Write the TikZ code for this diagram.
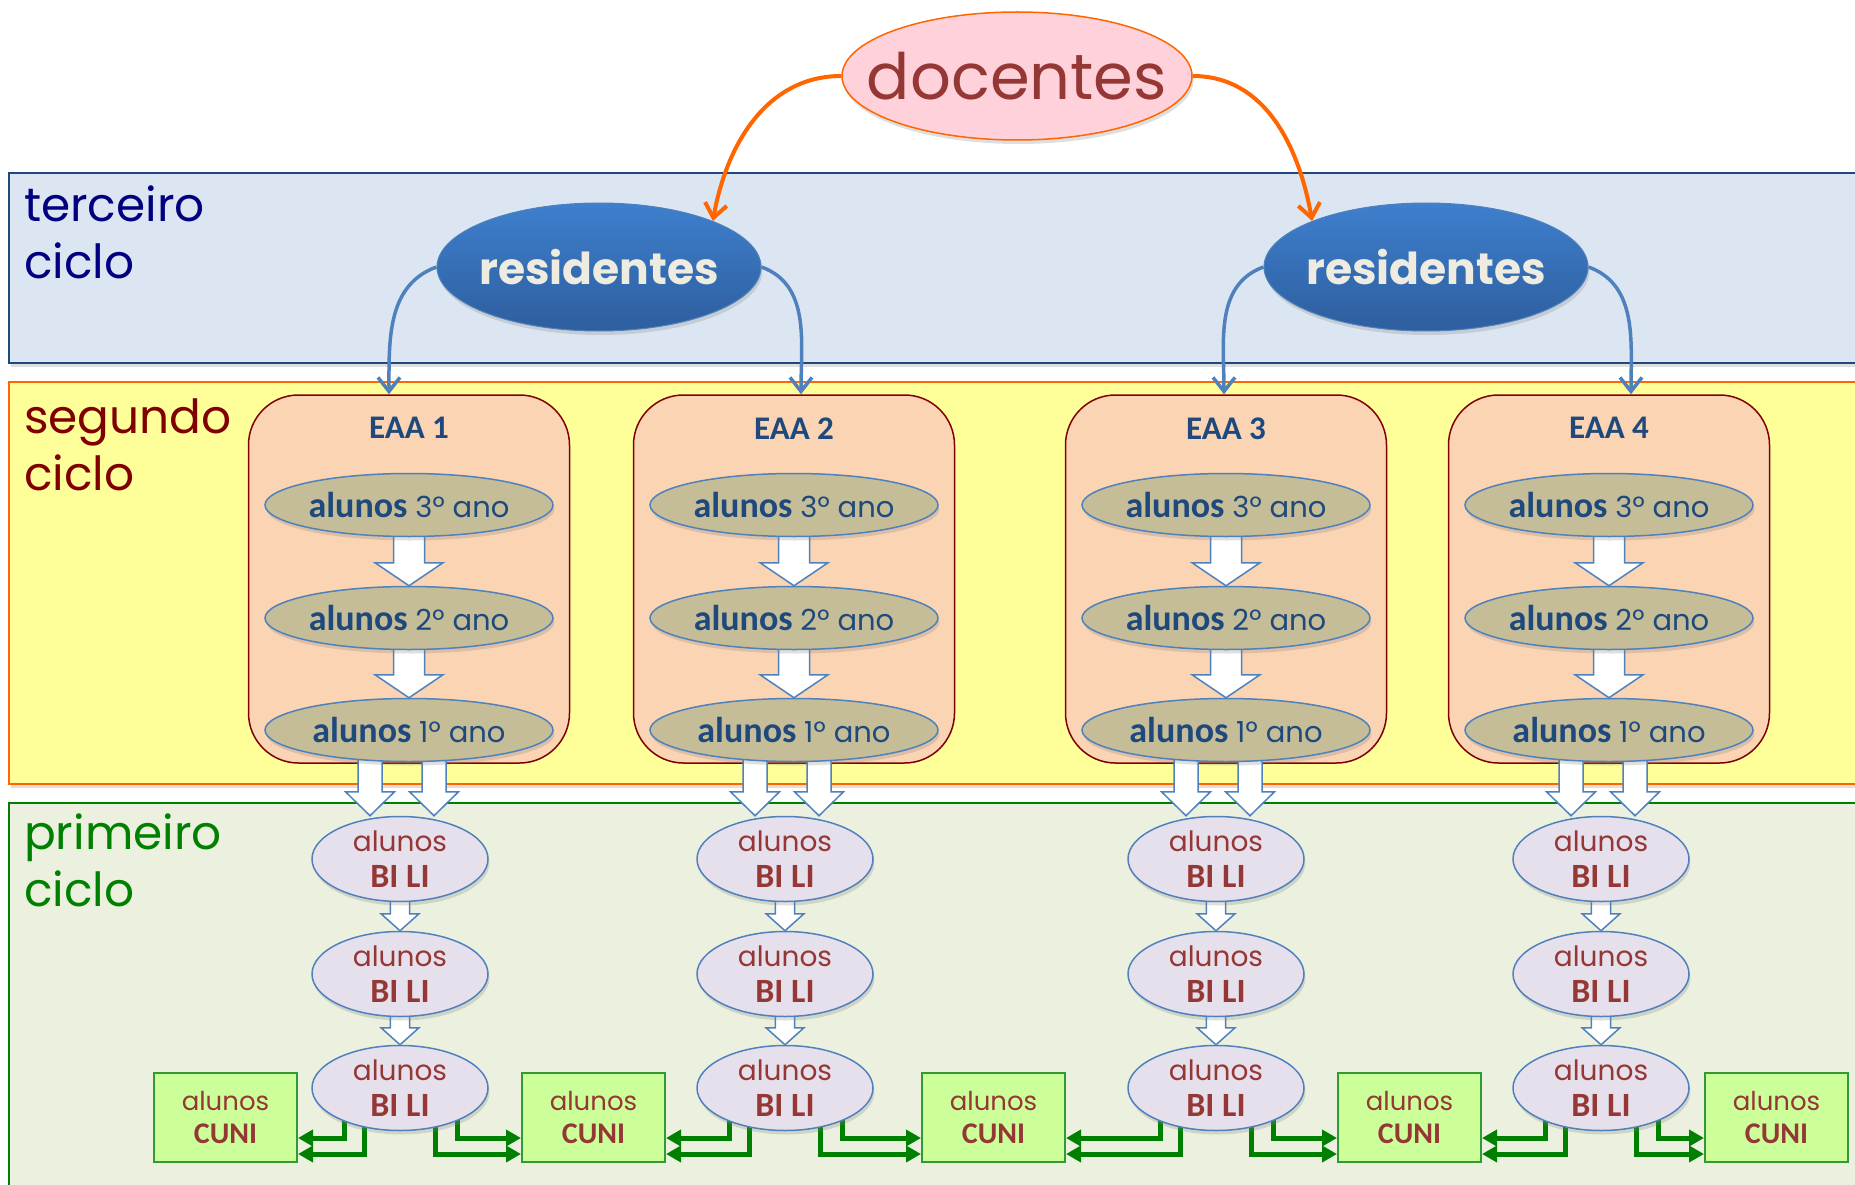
\documentclass[tikz,border=0pt]{standalone}
\usepackage{fontspec}
\setmainfont{Poppins}
\newfontfamily\calfont{Carlito}
\usetikzlibrary{positioning, shapes, shadows, calc, arrows.meta}

\definecolor{bandblue}{HTML}{DCE6F2}
\definecolor{bandblueline}{HTML}{1F497D}
\definecolor{bandyellow}{HTML}{FFFF99}
\definecolor{bandorange}{HTML}{FF6600}
\definecolor{bandgreen}{HTML}{EBF1DE}
\definecolor{darkgreen}{HTML}{008000}
\definecolor{navytext}{HTML}{000080}
\definecolor{maroon}{HTML}{800000}
\definecolor{docpink}{HTML}{FFD1DA}
\definecolor{docorange}{HTML}{FF6600}
\definecolor{brickred}{HTML}{953735}
\definecolor{restop}{HTML}{3E7FCD}
\definecolor{resbot}{HTML}{2E5E9E}
\definecolor{resline}{HTML}{4F81BD}
\definecolor{restext}{HTML}{EEECE1}
\definecolor{peach}{HTML}{FBD4B4}
\definecolor{khaki}{HTML}{C4BD97}
\definecolor{lilac}{HTML}{E5E0EC}
\definecolor{darkblue}{HTML}{1F497D}
\definecolor{cunifill}{HTML}{CCFF99}
\definecolor{cuniline}{HTML}{339933}

\pgfdeclarelayer{bands}
\pgfdeclarelayer{boxes}
\pgfdeclarelayer{links}
\pgfsetlayers{bands,boxes,links,main}

\newcommand{\boldalunos}{{\calfont\bfseries\fontsize{36}{40}\selectfont alunos}}
\newcommand{\fixedtext}[1]{\makebox[0pt]{#1}}
% white block arrow from #1 down to the tip #2
\newcommand{\blockarrow}[5]{%
  \draw[blockarrow] let \p1=(#1), \p2=(#2) in
    (\x2-#3,\y1) -- (\x2+#3,\y1) -- (\x2+#3,\y2+#5) -- (\x2+#4,\y2+#5) -- (\x2,\y2)
    -- (\x2-#4,\y2+#5) -- (\x2-#3,\y2+#5) -- cycle;}

\begin{document}
\begin{tikzpicture}[x=1pt, y=-1pt,
  shadowed/.style={drop shadow={shadow xshift=1.5pt, shadow yshift=-4pt, opacity=0.25}},
  doc/.style={ellipse, draw=docorange, line width=1.5pt, fill=docpink, minimum width=350pt, minimum height=128pt, inner sep=0pt, text=brickred, font=\fontsize{64}{70}\selectfont, shadowed},
  res/.style={ellipse, draw=resline, line width=1pt, top color=restop, bottom color=resbot, minimum width=324pt, minimum height=128pt, inner sep=0pt, text=restext, font=\fontsize{44}{50}\selectfont\bfseries, shadowed},
  eaa/.style={rectangle, rounded corners=50pt, draw=maroon, line width=1.5pt, fill=peach, minimum width=321pt, minimum height=368pt},
  eaatitle/.style={text=darkblue, inner sep=0pt, font=\calfont\bfseries\fontsize{33}{36}\selectfont},
  ano/.style={ellipse, draw=resline, line width=1.5pt, fill=khaki, minimum width=288pt, minimum height=63pt, inner sep=0pt, text=darkblue, font=\fontsize{29}{32}\selectfont, shadowed},
  bili/.style={ellipse, draw=resline, line width=1.5pt, fill=lilac, minimum width=176pt, minimum height=85pt, inner sep=0pt, text=brickred, align=center, font=\fontsize{28}{36}\selectfont, shadowed},
  cuni/.style={rectangle, draw=cuniline, line width=2pt, fill=cunifill, minimum width=143pt, minimum height=89pt, inner sep=0pt, text=brickred, align=center, font=\fontsize{26}{33}\selectfont},
  bandlabel/.style={anchor=north west, align=left, inner sep=0pt, font=\fontsize{47}{57}\selectfont},
  blockarrow/.style={draw=resline, line width=1.5pt, fill=white},
  docarrow/.style={draw=docorange, line width=4pt, -{Straight Barb[length=14pt,width=22pt]}},
  resarrow/.style={draw=resline, line width=3.5pt, -{Straight Barb[length=14pt,width=22pt]}},
  cunilink/.style={draw=darkgreen, line width=5pt, -{Triangle[length=15pt,width=16pt]}}
]
\useasboundingbox (0,0) rectangle (1855,1185);

% the three bands
\begin{pgfonlayer}{bands}
  \fill[white] (0,0) rectangle (1855,1185);
  \draw[draw=bandblueline, line width=2pt, fill=bandblue, shadowed] (9,173) rectangle (1870,363);
  \draw[draw=bandorange, line width=2pt, fill=bandyellow, shadowed] (9,382) rectangle (1870,784);
  \draw[draw=darkgreen, line width=2pt, fill=bandgreen] (9,803) rectangle (1870,1195);
\end{pgfonlayer}

\node[bandlabel, text=navytext] (lblthree) at (24,186) {terceiro\\ciclo};
\node[bandlabel, text=maroon] (lbltwo) at (24,399) {segundo\\ciclo};
\node[bandlabel, text=darkgreen] (lblone) at (24,814) {primeiro\\ciclo};

% top of the tree
\node[doc] (doc) at (1017,76) {\fixedtext{docentes}};
\node[res] (resA) at (599,267) {\fixedtext{residentes}};
\node[res] (resB) at (1426,267) {\fixedtext{residentes}};

% one column per EAA
\foreach \i/\ex/\bx in {1/409/400, 2/794/785, 3/1226/1216, 4/1609/1601} {
  \begin{pgfonlayer}{boxes}
    \node[eaa] (eaa\i) at (\ex,579) {};
  \end{pgfonlayer}
  \node[eaatitle, below=23pt of eaa\i.north] (title\i) {EAA \i};
  \node[ano] (anoC\i) at (\ex,505) {\boldalunos{} 3º ano};
  \node[ano] (anoB\i) at (\ex,618) {\boldalunos{} 2º ano};
  \node[ano] (anoA\i) at (\ex,730) {\boldalunos{} 1º ano};
  \node[bili] (biliA\i) at (\bx,859) {alunos\\{\calfont\bfseries\fontsize{34}{36}\selectfont BI LI}};
  \node[bili] (biliB\i) at (\bx,974) {alunos\\{\calfont\bfseries\fontsize{34}{36}\selectfont BI LI}};
  \node[bili] (biliC\i) at (\bx,1088) {alunos\\{\calfont\bfseries\fontsize{34}{36}\selectfont BI LI}};
  \begin{pgfonlayer}{links}
    \blockarrow{anoC\i.center}{anoB\i.north}{15.5pt}{34pt}{23pt}
    \blockarrow{anoB\i.center}{anoA\i.north}{15.5pt}{34pt}{23pt}
    \blockarrow{anoA\i.center}{[xshift=-30pt]biliA\i.north}{12pt}{24.5pt}{24pt}
    \blockarrow{anoA\i.center}{[xshift=34pt]biliA\i.north}{12pt}{24.5pt}{24pt}
    \blockarrow{biliA\i.center}{biliB\i.north}{9.7pt}{19pt}{17pt}
    \blockarrow{biliB\i.center}{biliC\i.north}{9.7pt}{19pt}{17pt}
  \end{pgfonlayer}
}

% CUNI boxes
\foreach \k/\cx in {1/225.5, 2/593.5, 3/993.5, 4/1409.5, 5/1776.5}
  \node[cuni] (cuni\k) at (\cx,1117.5) {alunos\\{\calfont\bfseries\fontsize{30}{33}\selectfont CUNI}};

\begin{pgfonlayer}{links}
  \draw[docarrow] (doc.west) to[out=180, in=80] (resA.22);
  \draw[docarrow] (doc.east) to[out=0, in=100] (resB.158);
  \draw[resarrow] (resA.west) to[out=200, in=90] ([xshift=-20pt]eaa1.north);
  \draw[resarrow] (resA.east) to[out=-20, in=90] ([xshift=7pt]eaa2.north);
  \draw[resarrow] (resB.west) to[out=200, in=90] ([xshift=-2pt]eaa3.north);
  \draw[resarrow] (resB.east) to[out=-20, in=90] ([xshift=22pt]eaa4.north);
  \foreach \i/\j in {1/2, 2/3, 3/4, 4/5} {
    \draw[cunilink] ([xshift=-56pt]biliC\i.center) |- ([yshift=-20.5pt]cuni\i.east);
    \draw[cunilink] ([xshift=-36pt]biliC\i.center) |- ([yshift=-36.5pt]cuni\i.east);
    \draw[cunilink] ([xshift=35pt]biliC\i.center) |- ([yshift=-36.5pt]cuni\j.west);
    \draw[cunilink] ([xshift=57pt]biliC\i.center) |- ([yshift=-20.5pt]cuni\j.west);
  }
\end{pgfonlayer}
\end{tikzpicture}
\end{document}
